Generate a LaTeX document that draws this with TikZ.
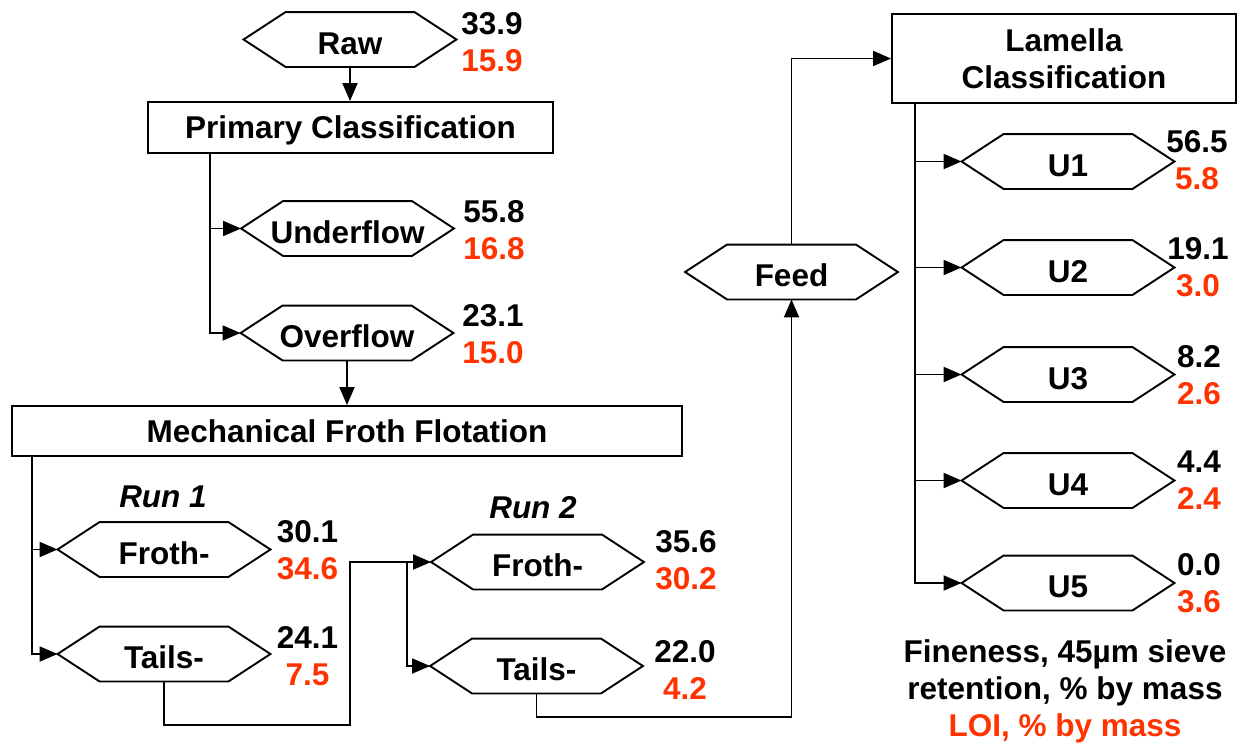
\documentclass[tikz,border=0pt]{standalone}
\usepackage{fontspec}
\setmainfont{Liberation Sans}
\usetikzlibrary{arrows.meta}
\definecolor{loi}{HTML}{FF3300}
\newcommand{\bigfont}{\fontsize{31.5}{37}\selectfont\bfseries}
\begin{document}
\begin{tikzpicture}[x=1pt,y=-1pt, line width=1.9pt,
  hexnode/.style={minimum width=211pt, minimum height=53pt, inner sep=0pt, font=\bigfont, text height=29pt, text depth=0pt},
  boxnode/.style={draw, inner sep=0pt, font=\bigfont, align=center, text depth=0pt},
  num/.style={font=\bigfont, align=center, inner sep=0pt},
  runlabel/.style={font=\fontsize{31.5}{37}\selectfont\bfseries\itshape, inner sep=0pt},
  arr/.style={-{Triangle[length=18pt,width=15pt]}}]
\useasboundingbox (0,0) rectangle (1241,747);

% process boxes
\node[boxnode, minimum width=405pt, minimum height=51pt] (primary) at (350.5,127.5) {Primary Classification};
\node[boxnode, minimum width=670pt, minimum height=50pt] (mech) at (347,431) {Mechanical Froth Flotation};
\node[boxnode, minimum width=344pt, minimum height=89pt] (lamella) at (1064,58.5) {Lamella\\Classification};

% product hexagons
\node[hexnode] (raw) at (350,39.5) {Raw};
\node[hexnode] (under) at (347.5,228.5) {Underflow};
\node[hexnode] (over) at (347,333) {Overflow};
\node[hexnode] (froth1) at (164,549.5) {Froth-};
\node[hexnode] (tails1) at (164,654) {Tails-};
\node[hexnode] (froth2) at (537.5,562) {Froth-};
\node[hexnode] (tails2) at (536.5,666) {Tails-};
\node[hexnode] (feed) at (791.5,272) {Feed};
\node[hexnode] (u1) at (1068,161.5) {U1};
\node[hexnode] (u2) at (1068,267.5) {U2};
\node[hexnode] (u3) at (1068,374.5) {U3};
\node[hexnode] (u4) at (1068,480.5) {U4};
\node[hexnode] (u5) at (1068,583) {U5};
\foreach \n in {raw,under,over,froth1,tails1,froth2,tails2,feed,u1,u2,u3,u4,u5}
  \draw (\n.west) -- ([xshift=42pt]\n.north west) -- ([xshift=-42pt]\n.north east)
        -- (\n.east) -- ([xshift=-42pt]\n.south east) -- ([xshift=42pt]\n.south west) -- cycle;

% values
\node[num] (vraw) at (492,42) {33.9\\\textcolor{loi}{15.9}};
\node[num] (vunder) at (494,230) {55.8\\\textcolor{loi}{16.8}};
\node[num] (vover) at (493,334.5) {23.1\\\textcolor{loi}{15.0}};
\node[num] (vfroth1) at (307.5,550) {30.1\\\textcolor{loi}{34.6}};
\node[num] (vtails1) at (307.5,656.5) {24.1\\\textcolor{loi}{7.5}};
\node[num] (vfroth2) at (686,560) {35.6\\\textcolor{loi}{30.2}};
\node[num] (vtails2) at (685,670) {22.0\\\textcolor{loi}{4.2}};
\node[num] (vu1) at (1197,160) {56.5\\\textcolor{loi}{5.8}};
\node[num] (vu2) at (1198,267.5) {19.1\\\textcolor{loi}{3.0}};
\node[num] (vu3) at (1199,375) {8.2\\\textcolor{loi}{2.6}};
\node[num] (vu4) at (1199,480) {4.4\\\textcolor{loi}{2.4}};
\node[num] (vu5) at (1199,583.5) {0.0\\\textcolor{loi}{3.6}};

% run labels and legend
\node[runlabel] (run1) at (163,497) {Run 1};
\node[runlabel] (run2) at (533,508) {Run 2};
\node[num] (legend) at (1065,691) {Fineness, 45µm sieve\\retention, \% by mass\\\textcolor{loi}{LOI, \% by mass}};

% connectors
\draw[arr] (raw.south) -- (raw.south |- primary.north);
\coordinate (pc) at ([xshift=-140.5pt]primary.south);
\draw[arr] (pc) |- (under.west);
\draw[arr] (pc) |- (over.west);
\draw[arr] (over.south) -- (over.south |- mech.north);
\coordinate (mc) at ([xshift=21pt]mech.south west);
\draw[arr] (mc) |- (froth1.west);
\draw[arr] (mc) |- (tails1.west);
\coordinate (j1) at (350,725);
\draw[arr] (tails1.south) |- (j1) |- (froth2.west);
\coordinate (j2) at (407,562);
\draw[arr] (j2) |- (tails2.west);
\coordinate (j3) at (791.5,717);
\draw[arr] (tails2.south) |- (j3) -- (feed.south);
\draw[arr] (feed.north) |- (lamella.west);
\coordinate (lc) at ([xshift=-149pt]lamella.south);
\foreach \u in {u1,u2,u3,u4,u5}
  \draw[arr] (lc) |- (\u.west);
\end{tikzpicture}
\end{document}
